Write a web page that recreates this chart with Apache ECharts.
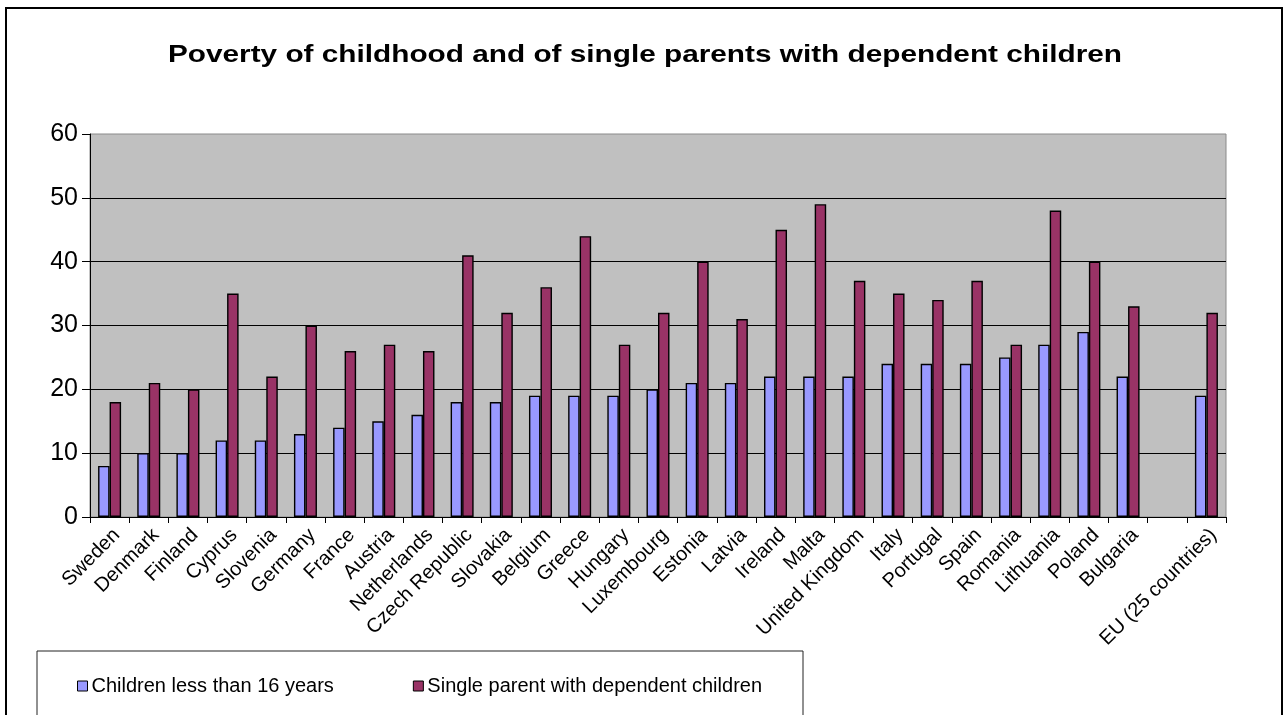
<!DOCTYPE html>
<html>
<head>
<meta charset="utf-8">
<title>Poverty of childhood and of single parents with dependent children</title>
<script src="https://cdn.jsdelivr.net/npm/echarts@6/dist/echarts.min.js"></script>
<style>
  html, body { margin: 0; padding: 0; background: #ffffff; }
  #chart { width: 1288px; height: 715px; }
</style>
</head>
<body>
<div id="chart"></div>
<script>
// Countries (an empty slot separates the EU average from the member states)
const countries = [
  'Sweden', 'Denmark', 'Finland', 'Cyprus', 'Slovenia', 'Germany', 'France',
  'Austria', 'Netherlands', 'Czech Republic', 'Slovakia', 'Belgium', 'Greece',
  'Hungary', 'Luxembourg', 'Estonia', 'Latvia', 'Ireland', 'Malta',
  'United Kingdom', 'Italy', 'Portugal', 'Spain', 'Romania', 'Lithuania',
  'Poland', 'Bulgaria', '', 'EU (25 countries)'
];

// Poverty rate (%), children under 16
const childrenUnder16 = [
  8, 10, 10, 12, 12, 13, 14, 15, 16, 18, 18, 19, 19,
  19, 20, 21, 21, 22, 22, 22, 24, 24, 24, 25, 27,
  29, 22, '-', 19
];

// Poverty rate (%), single parents with dependent children
const singleParents = [
  18, 21, 20, 35, 22, 30, 26, 27, 26, 41, 32, 36, 44,
  27, 32, 40, 31, 45, 49, 37, 35, 34, 37, 27, 48,
  40, 33, '-', 32
];

const seriesNames = ['Children less than 16 years', 'Single parent with dependent children'];
const yTicks = { min: 0, max: 60, step: 10 };
const titleText = 'Poverty of childhood and of single parents with dependent children';

const FONT = '"Liberation Sans", Arial, sans-serif';

const chart = echarts.init(document.getElementById('chart'), null, { renderer: 'canvas' });

chart.setOption({
  backgroundColor: '#ffffff',
  animation: false,
  graphic: [
    {
      // outer chart frame
      type: 'rect',
      shape: { x: 6, y: 8, width: 1276, height: 720 },
      style: { fill: 'none', stroke: '#000', lineWidth: 2 },
      silent: true,
      z: -1
    },
    {
      // wide bold heading, slightly stretched horizontally
      type: 'text',
      x: 645,
      y: 55,
      scaleX: 1.24,
      style: {
        text: titleText,
        font: 'bold 24px ' + FONT,
        fill: '#000',
        textAlign: 'center',
        textVerticalAlign: 'middle'
      },
      silent: true,
      z: 10
    },
    {
      // legend frame
      type: 'rect',
      shape: { x: 37, y: 651, width: 766, height: 90 },
      style: { fill: '#fff', stroke: '#222', lineWidth: 1 },
      silent: true,
      z: 0
    }
  ],
  legend: {
    data: seriesNames,
    left: 72,
    top: 671,
    icon: 'rect',
    itemWidth: 10,
    itemHeight: 10,
    itemGap: 79,
    itemStyle: { borderColor: '#000', borderWidth: 1 },
    textStyle: { fontFamily: FONT, fontSize: 20, color: '#000', padding: [0, 0, 0, -1] },
    z: 5
  },
  grid: {
    left: 90,
    right: 62,
    top: 134,
    bottom: 198,
    show: true,
    backgroundColor: '#C0C0C0',
    borderColor: '#8a8a8a',
    borderWidth: 1,
    containLabel: false
  },
  xAxis: {
    type: 'category',
    data: countries,
    boundaryGap: true,
    axisLine: { show: true, lineStyle: { color: '#000', width: 1 } },
    axisTick: { show: true, alignWithLabel: false, length: 6, lineStyle: { color: '#000' } },
    axisLabel: {
      interval: 0,
      rotate: 45,
      margin: 8,
      verticalAlign: 'top',
      fontFamily: FONT,
      fontSize: 20,
      color: '#000'
    },
    splitLine: { show: false }
  },
  yAxis: {
    type: 'value',
    min: yTicks.min,
    max: yTicks.max,
    interval: yTicks.step,
    axisLine: { show: true, lineStyle: { color: '#000', width: 1 } },
    axisTick: { show: true, inside: false, length: 8, lineStyle: { color: '#000' } },
    axisLabel: { margin: 12, fontFamily: FONT, fontSize: 25, color: '#000' },
    splitLine: {
      show: true,
      showMinLine: false,
      showMaxLine: false,
      lineStyle: { color: '#000', width: 1 }
    }
  },
  series: [
    {
      name: seriesNames[0],
      type: 'bar',
      data: childrenUnder16,
      barWidth: 11.5,
      barGap: '0%',
      itemStyle: { color: '#9999FF', borderColor: '#000', borderWidth: 1.4 }
    },
    {
      name: seriesNames[1],
      type: 'bar',
      data: singleParents,
      barWidth: 11.5,
      barGap: '0%',
      itemStyle: { color: '#993366', borderColor: '#000', borderWidth: 1.4 }
    }
  ]
});
</script>
</body>
</html>
